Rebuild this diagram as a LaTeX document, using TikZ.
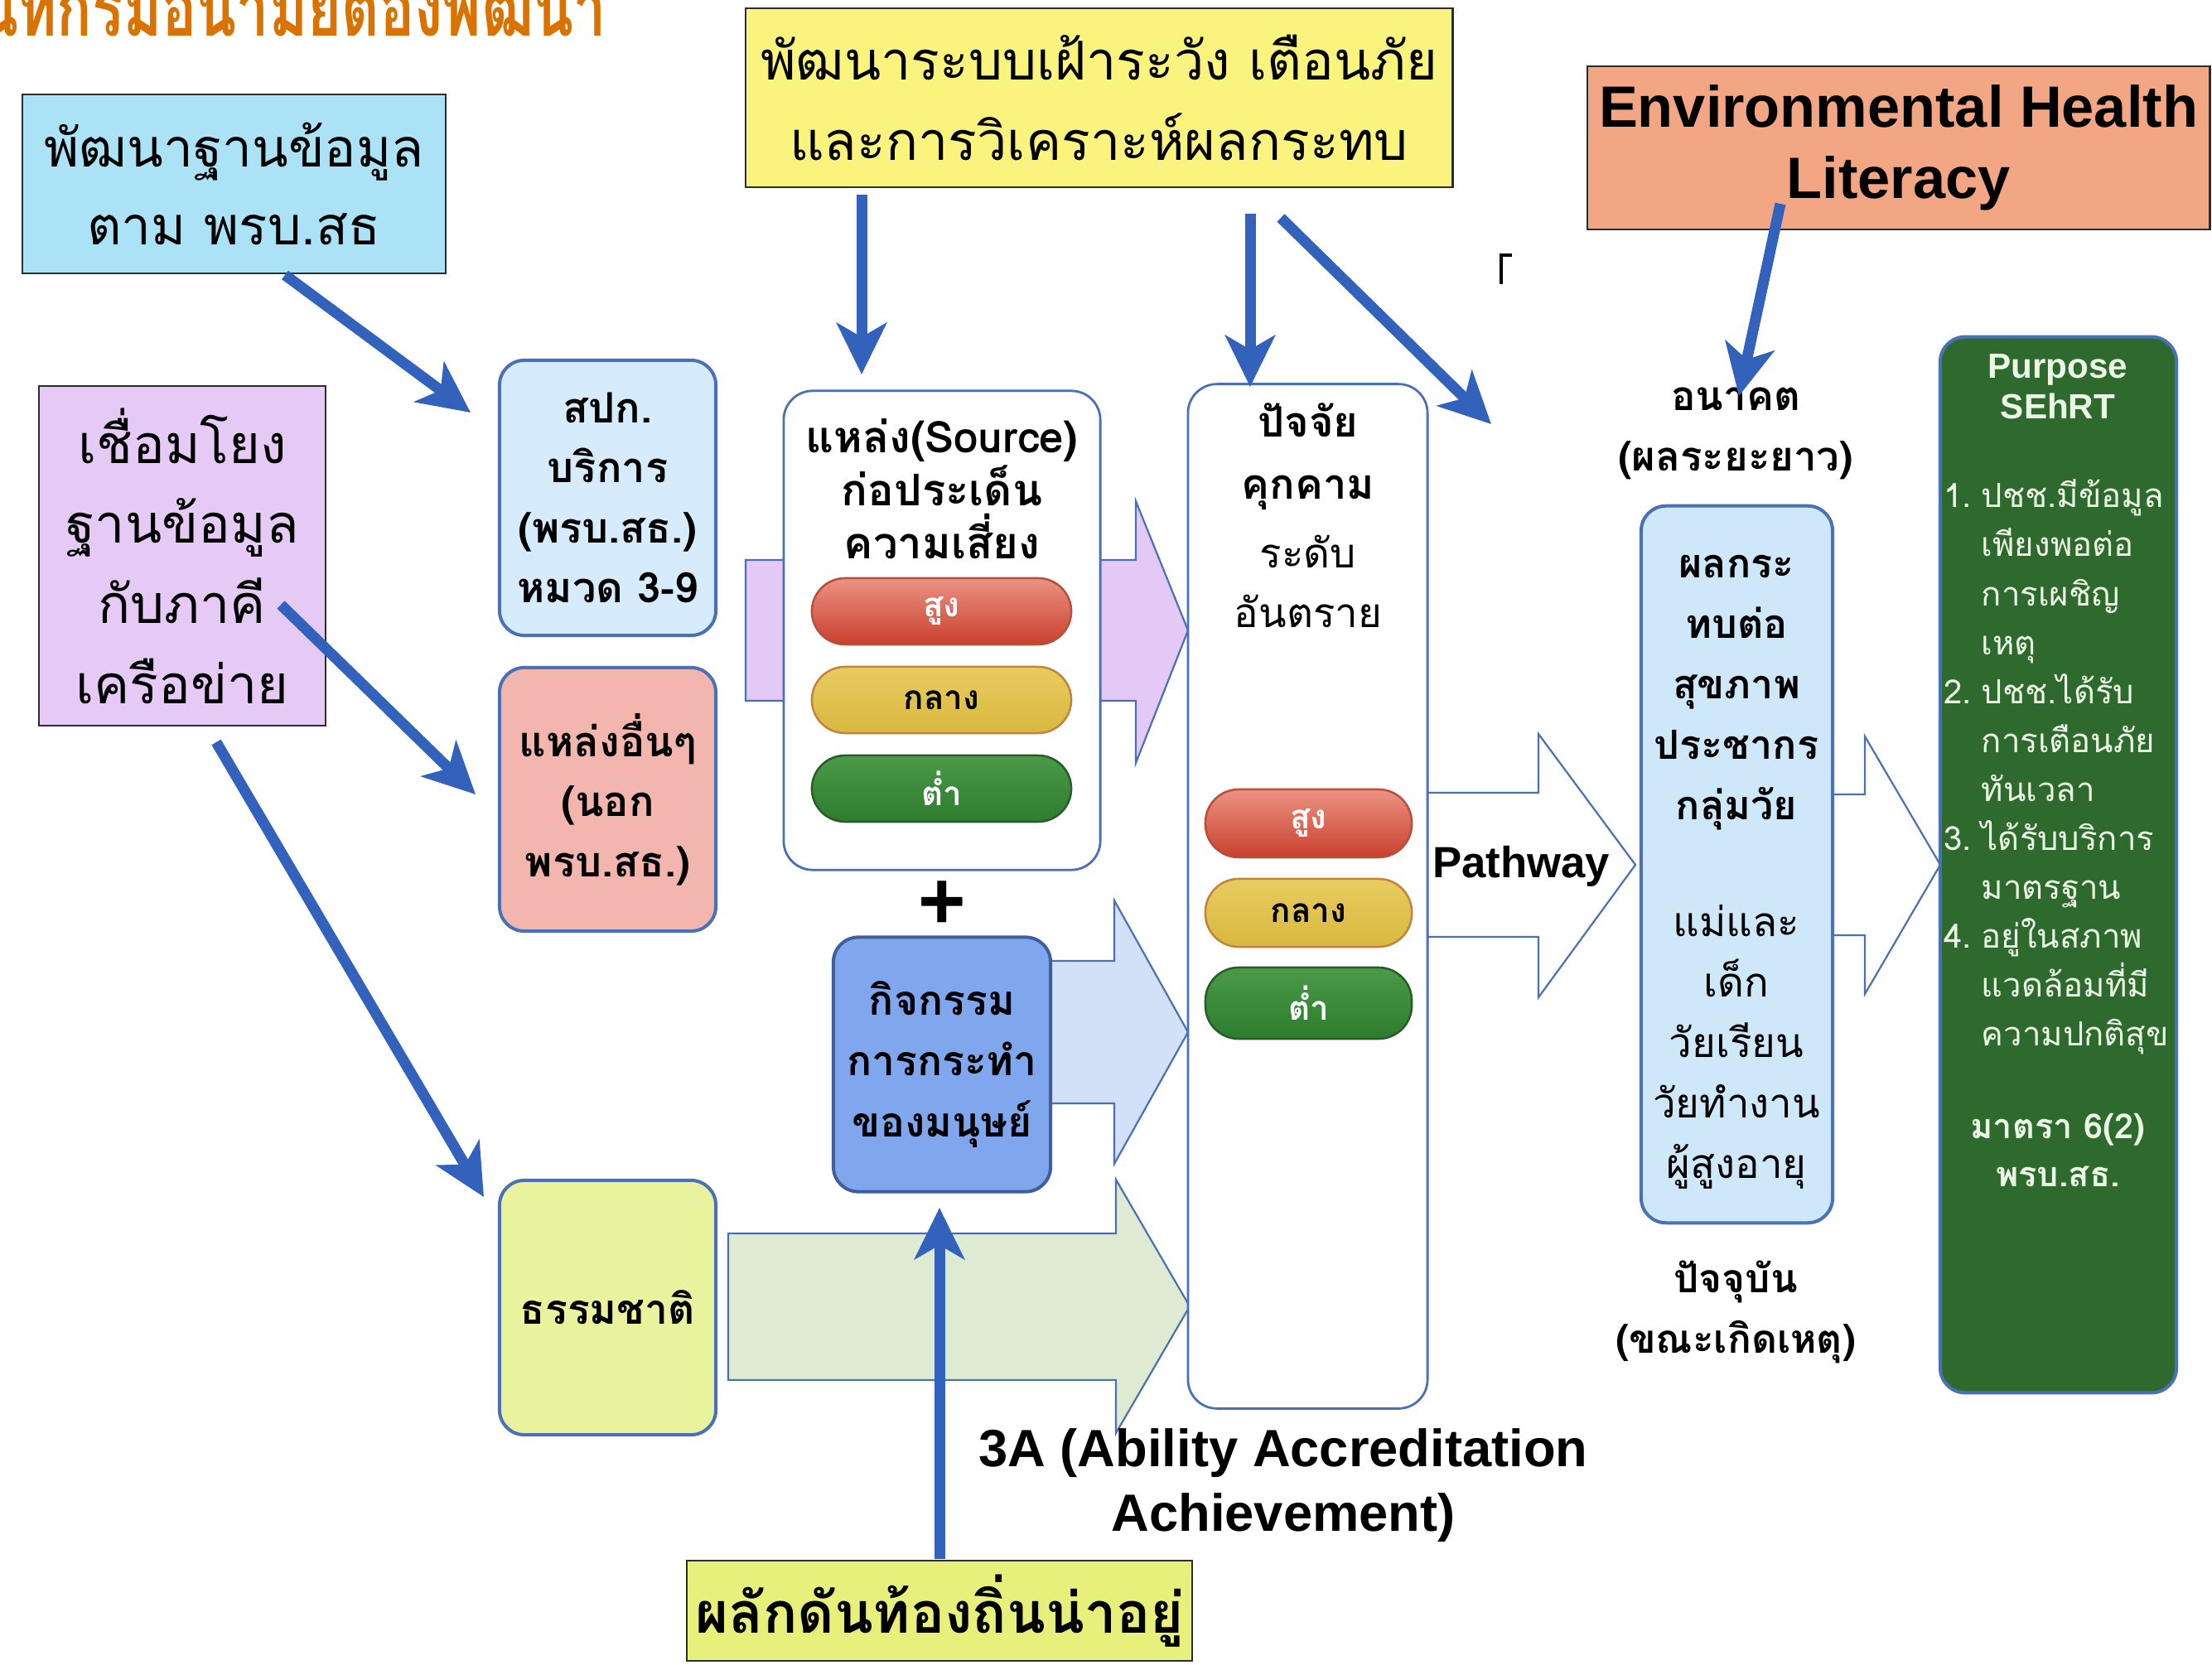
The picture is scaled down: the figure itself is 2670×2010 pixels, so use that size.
\documentclass[tikz,border=0pt]{standalone}
\usepackage{fontspec}
\setmainfont{Liberation Sans}
\newfontfamily\thai[Script=Thai]{Loma}
\usetikzlibrary{arrows.meta}

\definecolor{arrowblue}{RGB}{50,98,188}
\definecolor{edgeblue}{RGB}{74,112,184}
\definecolor{boxedge}{RGB}{45,45,45}
\definecolor{skyfill}{RGB}{172,226,246}
\definecolor{lilacfill}{RGB}{230,202,246}
\definecolor{lemonfill}{RGB}{250,244,126}
\definecolor{salmonfill}{RGB}{242,166,132}
\definecolor{limefill}{RGB}{232,240,124}
\definecolor{paleblue}{RGB}{214,236,252}
\definecolor{rosefill}{RGB}{242,182,174}
\definecolor{palelime}{RGB}{233,242,156}
\definecolor{actfill}{RGB}{128,166,238}
\definecolor{actarrow}{RGB}{210,224,248}
\definecolor{natarrow}{RGB}{222,235,210}
\definecolor{srcarrow}{RGB}{228,200,245}
\definecolor{outfill}{RGB}{206,232,250}
\definecolor{purposegreen}{RGB}{46,106,46}
\definecolor{purposetext}{RGB}{236,246,228}
\definecolor{titleorange}{RGB}{218,114,0}
\definecolor{redtop}{RGB}{236,146,132}
\definecolor{redbot}{RGB}{200,64,44}
\definecolor{rededge}{RGB}{180,80,60}
\definecolor{ambertop}{RGB}{232,204,96}
\definecolor{amberbot}{RGB}{216,184,64}
\definecolor{amberedge}{RGB}{196,130,60}
\definecolor{greentop}{RGB}{74,154,72}
\definecolor{greenbot}{RGB}{46,124,46}
\definecolor{greenedge}{RGB}{40,92,40}

\newcommand{\fs}[2]{\fontsize{#1}{#2}\selectfont}

\tikzset{
  sqbox/.style={draw=boxedge, line width=0.025cm, align=center, inner sep=0pt},
  roundbox/.style={draw=edgeblue, line width=0.04cm, rounded corners=0.3cm, align=center, inner sep=0pt},
  panel/.style={draw=edgeblue, line width=0.028cm, rounded corners=0.35cm, fill=white, inner sep=0pt},
  blockedge/.style={draw=edgeblue, line width=0.022cm, line join=miter},
  bluearrow/.style={draw=arrowblue, line width=0.13cm,
    -{Stealth[length=0.62cm, width=0.6cm, inset=0.17cm]}},
  pill/.style={line width=0.025cm, rounded corners=0.4cm, inner sep=0pt,
    font=\thai\bfseries\fs{11.5}{14}},
  redpill/.style={pill, draw=rededge, top color=redtop, bottom color=redbot, text=white},
  amberpill/.style={pill, draw=amberedge, top color=ambertop, bottom color=amberbot, text=black},
  greenpill/.style={pill, draw=greenedge, top color=greentop, bottom color=greenbot, text=white},
  boldthai/.style={font=\thai\bfseries\fs{14.2}{20.8}, align=center},
}

\begin{document}
\begin{tikzpicture}[x=0.01cm, y=-0.01cm]
\path[use as bounding box, clip] (0,0) rectangle (2670,2010);
\fill[white] (0,0) rectangle (2670,2010);

% heading, cut by the top and left edges
\node[anchor=base west, text=titleorange, font=\thai\bfseries\fs{27}{30}, inner sep=0pt,
  xscale=0.74] (heading) at (-26,44) {นที่กรมอนามัยต้องพัฒนา};

% ---------- square boxes ----------
\node[sqbox, fill=skyfill, minimum width=5.11cm, minimum height=2.16cm,
  font=\thai\fs{18.2}{26.5}] (tl) at (282.5,222) {พัฒนาฐานข้อมูล\\ตาม พรบ.สธ};
\node[sqbox, fill=lilacfill, minimum width=3.46cm, minimum height=4.10cm,
  font=\thai\fs{18.4}{27.5}] (link) at (220,671) {เชื่อมโยง\\ฐานข้อมูล\\กับภาคี\\เครือข่าย};
\node[sqbox, fill=lemonfill, minimum width=8.53cm, minimum height=2.16cm,
  font=\thai\fs{18.4}{27.5}] (watch) at (1326.5,118) {พัฒนาระบบเฝ้าระวัง เตือนภัย\\และการวิเคราะห์ผลกระทบ};
\node[sqbox, fill=salmonfill, minimum width=7.51cm, minimum height=1.97cm,
  font=\bfseries\fs{20}{24.5}] (ehl) at (2291.5,178.5) {Environmental Health\\Literacy};
\node[sqbox, fill=limefill, minimum width=6.10cm, minimum height=1.21cm,
  font=\thai\bfseries\fs{19.5}{24}] (local) at (1134,1944.5) {ผลักดันท้องถิ่นน่าอยู่};

% ---------- source boxes on the left ----------
\node[roundbox, fill=paleblue, minimum width=2.61cm, minimum height=3.32cm, boldthai,
  font=\thai\bfseries\fs{14.4}{20.6}] (spk) at (733.5,601) {สปก.\\บริการ\\(พรบ.สธ.)\\หมวด 3-9};
\node[roundbox, fill=rosefill, minimum width=2.61cm, minimum height=3.18cm, boldthai,
  font=\thai\bfseries\fs{14.4}{20.6}] (other) at (733.5,965) {แหล่งอื่นๆ\\(นอก\\พรบ.สธ.)};
\node[roundbox, fill=palelime, minimum width=2.61cm, minimum height=3.07cm, boldthai]
  (nature) at (733.5,1578.5) {ธรรมชาติ};

% ---------- block arrows into the hazard panel ----------
\draw[blockedge, fill=srcarrow] (900,676) -- (1371,676) -- (1371,605) -- (1434,761)
  -- (1371,921) -- (1371,846) -- (900,846) -- cycle;
\draw[blockedge, fill=actarrow] (1200,1160) -- (1345,1160) -- (1345,1087) -- (1434,1246)
  -- (1345,1405) -- (1345,1332) -- (1200,1332) -- cycle;
\draw[blockedge, fill=natarrow] (879,1489) -- (1347,1489) -- (1347,1424) -- (1436,1577)
  -- (1347,1730) -- (1347,1666) -- (879,1666) -- cycle;

% ---------- source panel ----------
\node[panel, minimum width=3.82cm, minimum height=5.78cm] (src) at (1137,761) {};
\node[boldthai, font=\thai\bfseries\fs{15}{18.2}] (srcT) at (1137,590)
  {แหล่ง(Source)\\ก่อประเด็น\\ความเสี่ยง};
\node[redpill, minimum width=3.13cm, minimum height=0.80cm] (sHigh) at (1136.5,738) {สูง};
\node[amberpill, minimum width=3.13cm, minimum height=0.80cm] (sMid) at (1136.5,845) {กลาง};
\node[greenpill, minimum width=3.13cm, minimum height=0.80cm] (sLow) at (1136.5,952) {ต่ำ};

\node[font=\bfseries\fs{28}{28}, inner sep=0pt] (plus) at (1137,1093) {+};

\node[roundbox, draw=edgeblue!85!black, fill=actfill, minimum width=2.62cm, minimum height=3.07cm,
  boldthai, font=\thai\bfseries\fs{14.2}{21}] (act) at (1137,1285) {กิจกรรม\\การกระทำ\\ของมนุษย์};

% ---------- pathway arrow and hazard panel ----------
\fill[white] (1700,957) -- (1857,957) -- (1857,886) -- (1974,1044) -- (1857,1204)
  -- (1857,1131) -- (1700,1131) -- cycle;
\draw[blockedge] (1723,957) -- (1857,957) -- (1857,886) -- (1974,1044) -- (1857,1204)
  -- (1857,1131) -- (1723,1131);
\node[panel, minimum width=2.89cm, minimum height=12.36cm] (haz) at (1578.5,1082) {};
\node[boldthai, font=\thai\bfseries\fs{14.4}{21.5}] (hazA) at (1579,551) {ปัจจัย\\คุกคาม};
\node[align=center, font=\thai\fs{14}{20.5}] (hazB) at (1579,702) {ระดับ\\อันตราย};
\node[redpill, minimum width=2.49cm, minimum height=0.82cm] (hHigh) at (1579.5,994) {สูง};
\node[amberpill, minimum width=2.49cm, minimum height=0.82cm] (hMid) at (1579.5,1102) {กลาง};
\node[greenpill, minimum width=2.49cm, minimum height=0.86cm] (hLow) at (1579.5,1211) {ต่ำ};
\node[font=\bfseries\fs{15}{18}, inner sep=0pt] (pathway) at (1836,1046) {Pathway};

% ---------- arrow from the outcome column to the purpose panel ----------
\fill[white] (2200,959) -- (2251,959) -- (2251,889) -- (2342,1044) -- (2251,1200)
  -- (2251,1129) -- (2200,1129) -- cycle;
\draw[blockedge] (2212,959) -- (2251,959) -- (2251,889) -- (2342,1044) -- (2251,1200)
  -- (2251,1129) -- (2212,1129);

% ---------- health outcome column ----------
\node[boldthai, font=\thai\bfseries\fs{14}{20.8}] (future) at (2095,523) {อนาคต\\(ผลระยะยาว)};
\node[roundbox, fill=outfill, minimum width=2.31cm, minimum height=8.65cm] (out) at (2096.5,1043.5) {};
\node[boldthai, font=\thai\bfseries\fs{13.8}{20.8}] (outA) at (2096,836) {ผลกระ\\ทบต่อ\\สุขภาพ\\ประชากร\\กลุ่มวัย};
\node[align=center, font=\thai\fs{14}{20.8}] (outB) at (2096,1264) {แม่และ\\เด็ก\\วัยเรียน\\วัยทำงาน\\ผู้สูงอายุ};
\node[boldthai, font=\thai\bfseries\fs{13.6}{20.8}] (now) at (2095,1584) {ปัจจุบัน\\(ขณะเกิดเหตุ)};

% ---------- purpose panel ----------
\node[roundbox, draw=edgeblue, fill=purposegreen, minimum width=2.85cm, minimum height=12.74cm]
  (purpose) at (2484.5,1044) {};
\node[align=center, text=purposetext, font=\bfseries\fs{12}{14}] (purT) at (2484,467) {Purpose\\SEhRT};
\node[text=purposetext, font=\thai\fs{11.4}{16.8}, inner sep=0pt] (purList) at (2482,926)
  {\begin{tabular}{@{}l@{\hspace{0.3em}}l@{}}
   1. & ปชช.มีข้อมูล\\ & เพียงพอต่อ\\ & การเผชิญ\\ & เหตุ\\
   2. & ปชช.ได้รับ\\ & การเตือนภัย\\ & ทันเวลา\\
   3. & ได้รับบริการ\\ & มาตรฐาน\\
   4. & อยู่ในสภาพ\\ & แวดล้อมที่มี\\ & ความปกติสุข
   \end{tabular}};
\node[align=center, text=purposetext, font=\thai\bfseries\fs{11.8}{16.5}] (purLaw) at (2484,1388)
  {มาตรา 6(2)\\พรบ.สธ.};

% ---------- caption ----------
\node[align=center, font=\bfseries\fs{18}{22}] (threeA) at (1549,1793)
  {3A (Ability Accreditation\\Achievement)};

% small corner mark
\draw[line width=0.035cm] (1812,343) -- (1812,308) -- (1825,308);

% ---------- blue connector arrows ----------
\coordinate (a1s) at (344,332);  \coordinate (a1e) at (568,498);
\coordinate (a2s) at (339,730);  \coordinate (a2e) at (574,959);
\coordinate (a3s) at (261,896);  \coordinate (a3e) at (584,1445);
\coordinate (a4s) at (1040,235); \coordinate (a4e) at (1040,452);
\coordinate (a5s) at (1509,258); \coordinate (a5e) at (1509,467);
\coordinate (a6s) at (1546,263); \coordinate (a6e) at (1800,512);
\coordinate (a7s) at (2149,246); \coordinate (a7e) at (2099,478);
\coordinate (a8s) at (1134,1882);\coordinate (a8e) at (1134,1458);
\foreach \n in {1,...,8} \draw[bluearrow] (a\n s) -- (a\n e);
\end{tikzpicture}
\end{document}
